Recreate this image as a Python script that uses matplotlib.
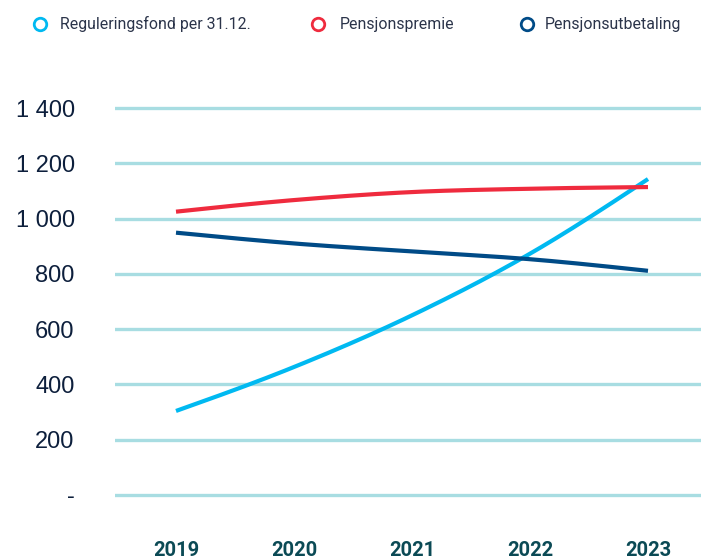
import numpy as np
import matplotlib
matplotlib.use("Agg")
import matplotlib.pyplot as plt
from matplotlib.lines import Line2D
from matplotlib.ticker import FuncFormatter

years = [2019, 2020, 2021, 2022, 2023]
series_names = ["Reguleringsfond per 31.12.", "Pensjonspremie", "Pensjonsutbetaling"]
reguleringsfond = [304, 463, 650, 873, 1143]
pensjonspremie = [1025, 1067, 1096, 1108, 1114]
pensjonsutbetaling = [949, 910, 881, 853, 811]
colors = ["#00b9f1", "#ef2b3e", "#004b87"]
yticks = [0, 200, 400, 600, 800, 1000, 1200, 1400]


def smooth(x, y, n=200):
    """Catmull-Rom style cubic Hermite through the data points."""
    x = np.asarray(x, float)
    y = np.asarray(y, float)
    h = np.diff(x)
    d = np.diff(y) / h
    m = np.zeros_like(y)
    m[1:-1] = (y[2:] - y[:-2]) / (x[2:] - x[:-2])
    m[0] = d[0] - (m[1] - d[0]) * 0.5
    m[-1] = d[-1] + (d[-1] - m[-2]) * 0.5
    xs = np.linspace(x[0], x[-1], n)
    idx = np.clip(np.searchsorted(x, xs) - 1, 0, len(x) - 2)
    t = (xs - x[idx]) / h[idx]
    h00 = 2 * t**3 - 3 * t**2 + 1
    h10 = t**3 - 2 * t**2 + t
    h01 = -2 * t**3 + 3 * t**2
    h11 = t**3 - t**2
    ys = h00 * y[idx] + h10 * h[idx] * m[idx] + h01 * y[idx + 1] + h11 * h[idx] * m[idx + 1]
    return xs, ys


W, H = 701, 558
fig = plt.figure(figsize=(W / 100, H / 100), dpi=100)
# axes: left 115px -> right 701px ; top 100px -> bottom 503px
ax = fig.add_axes([115 / W, 1 - 503 / H, (701 - 115) / W, (503 - 100) / H])
ax.set_xlim(2019 - 61 / 118, 2023 + 53 / 118)
ax.set_ylim(-29, 1429)

for v in yticks:
    ax.axhline(v, color="#a8dde2", lw=2.4, zorder=1)

for vals, c in zip([reguleringsfond, pensjonspremie, pensjonsutbetaling], colors):
    xs, ys = smooth(years, vals)
    ax.plot(xs, ys, color=c, lw=3.0, solid_capstyle="butt", zorder=3)

for s in ax.spines.values():
    s.set_visible(False)
ax.set_yticks(yticks)
ax.yaxis.set_major_formatter(FuncFormatter(lambda v, p: "-" if v == 0 else f"{int(v):,}".replace(",", " ")))
ax.tick_params(axis="y", length=0, pad=29, labelsize=17, labelcolor="#0d1f3c")
for lab in ax.get_yticklabels():
    lab.set_fontfamily("Liberation Sans")

ax.set_xticks(years)
ax.set_xticklabels([str(y) for y in years])
ax.tick_params(axis="x", length=0, pad=27, labelsize=14.5, labelcolor="#0b4a55")
for lab in ax.get_xticklabels():
    lab.set_fontfamily("Roboto")
    lab.set_fontweight("bold")

# legend
leg = [(40, 60), (318, 340), (527, 545)]
for (cx, tx), name, c in zip(leg, series_names, colors):
    fig.add_artist(Line2D([cx / W], [1 - 24 / H], marker="o", markersize=9, markerfacecolor="white",
                          markeredgecolor=c, markeredgewidth=2, linestyle="none", transform=fig.transFigure))
    fig.text(tx / W, 1 - 24 / H, name, ha="left", va="center", fontsize=11.4, color="#2b344a",
             family="Roboto")

fig.savefig("out.png", dpi=100)
